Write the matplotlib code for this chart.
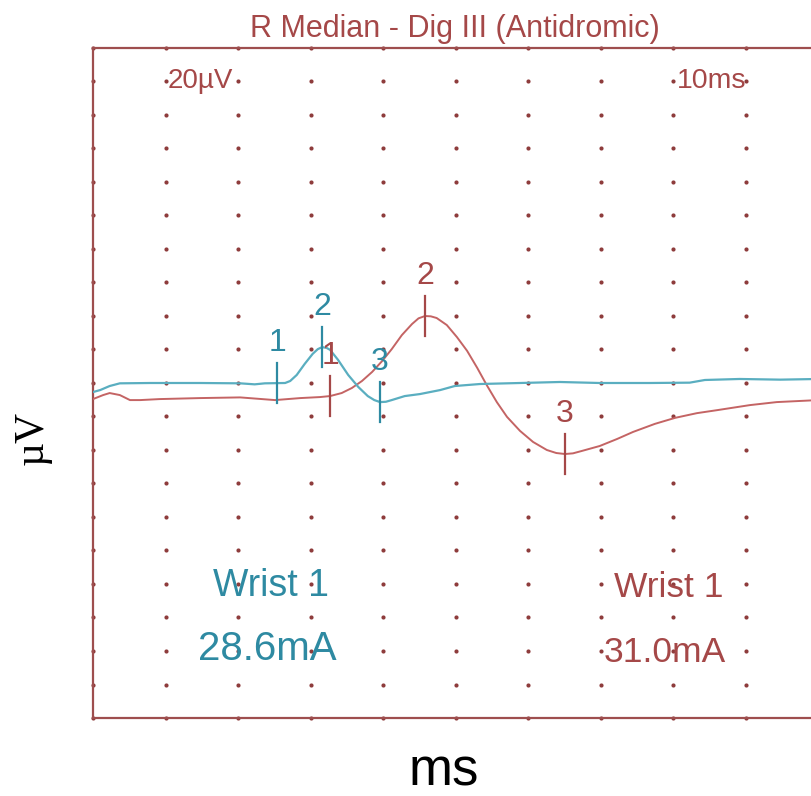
import matplotlib
matplotlib.use("Agg")
import matplotlib.pyplot as plt
import numpy as np

# Sweep: 10 ms across, 10 µV per dotted row
ms_range = (0, 10)
uv_range = (-100, 100)

# Wrist 1, 28.6 mA (teal trace)
teal_t = [0.00, 0.10, 0.23, 0.37, 0.79, 1.48, 2.03, 2.23, 2.37, 2.65, 2.72, 2.81,
          2.92, 3.03, 3.10, 3.16, 3.22, 3.27, 3.38, 3.52, 3.66, 3.79, 3.88, 3.96,
          4.04, 4.12, 4.30, 4.51, 4.79, 4.99, 5.34, 5.89, 6.44, 6.99, 7.68, 8.23,
          8.44, 8.92, 9.48, 10.0]
teal_v = [-2.7, -2.1, -0.9, -0.1, 0.0, 0.0, -0.1, -0.4, -0.1, 0.0, 0.6, 2.4,
          5.7, 8.7, 10.1, 10.7, 10.5, 9.9, 6.9, 2.4, -1.2, -3.9, -5.1, -5.7,
          -5.6, -5.1, -3.9, -3.3, -2.1, -0.9, -0.3, 0.0, 0.3, 0.0, 0.0, 0.1,
          0.9, 1.2, 1.0, 1.2]

# Wrist 1, 31.0 mA (red trace)
red_t = [0.00, 0.14, 0.23, 0.37, 0.51, 0.65, 0.92, 1.48, 2.03, 2.51, 2.86, 3.13,
         3.27, 3.43, 3.57, 3.71, 3.85, 3.99, 4.12, 4.26, 4.40, 4.49, 4.58, 4.66,
         4.74, 4.88, 5.02, 5.16, 5.30, 5.43, 5.57, 5.71, 5.89, 6.07, 6.26, 6.39,
         6.51, 6.62, 6.74, 6.99, 7.23, 7.45, 7.75, 8.03, 8.33, 8.61, 9.06, 9.43,
         10.0]
red_v = [-4.8, -3.6, -3.0, -3.6, -5.1, -5.1, -4.8, -4.5, -4.3, -5.1, -4.5, -4.2,
         -3.9, -3.0, -1.5, 0.6, 3.3, 6.6, 10.1, 14.3, 17.6, 19.3, 20.0, 19.9,
         19.4, 17.3, 13.7, 9.6, 4.5, -0.6, -5.7, -10.1, -14.3, -17.6, -20.0, -20.9,
         -21.2, -21.0, -20.3, -18.8, -16.7, -14.6, -12.2, -10.4, -9.0, -8.1, -6.6, -5.7,
         -5.1]

# Cursor markers (latency ms, amplitude µV)
marker_names = ["1", "2", "3"]
teal_mark_t = [2.54, 3.16, 3.96]
teal_mark_v = [0.0, 10.7, -5.7]
red_mark_t = [3.27, 4.58, 6.51]
red_mark_v = [-3.9, 20.0, -21.2]

title = "R Median - Dig III (Antidromic)"
teal_label = ["Wrist 1", "28.6mA"]
red_label = ["Wrist 1", "31.0mA"]

TEAL_LINE = "#5aaec0"
TEAL_TEXT = "#2e8aa2"
RED_LINE = "#c46464"
RED_TEXT = "#a54848"
FRAME = "#9e4e4e"
DOT = "#8e3c3c"

W, H = 812, 796
fig = plt.figure(figsize=(W / 100, H / 100), dpi=100)
ax = fig.add_axes([93 / W, 1 - 718 / H, 725 / W, 670 / H])
ax.set_xlim(*ms_range)
ax.set_ylim(*uv_range)

for side in ("left", "top", "bottom"):
    ax.spines[side].set_color(FRAME)
    ax.spines[side].set_linewidth(1.6)
ax.spines["right"].set_visible(False)
ax.set_xticks([])
ax.set_yticks([])

# dotted division grid
gx, gy = np.meshgrid(np.arange(0, 11, 1), np.arange(-100, 101, 10))
ax.scatter(gx.ravel(), gy.ravel(), s=9, color=DOT, linewidths=0, zorder=1, clip_on=False)

ax.plot(red_t, red_v, color=RED_LINE, lw=1.4, zorder=3, solid_joinstyle="round")
ax.plot(teal_t, teal_v, color=TEAL_LINE, lw=1.6, zorder=4, solid_joinstyle="round")

def draw_markers(ts, vs, line_col, text_col):
    for name, t, v in zip(marker_names, ts, vs):
        ax.plot([t, t], [v - 6, v + 6], color=line_col, lw=1.6, zorder=5)
        ax.annotate(name, (t, v), xytext=(0, 29), textcoords="offset points",
                    ha="center", va="center", fontsize=23, color=text_col,
                    family="Liberation Sans", zorder=6)

draw_markers(teal_mark_t, teal_mark_v, TEAL_TEXT, TEAL_TEXT)
draw_markers(red_mark_t, red_mark_v, RED_TEXT, RED_TEXT)

# scale readouts
ax.text(1.03, 90, "20µV", ha="left", va="center", fontsize=20,
        color=RED_TEXT, family="Liberation Sans")
ax.text(8.06, 90, "10ms", ha="left", va="center", fontsize=20.5,
        color=RED_TEXT, family="Liberation Sans")

# stimulus annotations
ax.text(2.46, -60.5, teal_label[0], ha="center", va="center", fontsize=27,
        color=TEAL_TEXT, family="Liberation Sans")
ax.text(2.40, -79.5, teal_label[1], ha="center", va="center", fontsize=29,
        color=TEAL_TEXT, family="Liberation Sans")
ax.text(7.94, -61, red_label[0], ha="center", va="center", fontsize=25.5,
        color=RED_TEXT, family="Liberation Sans")
ax.text(7.89, -80.5, red_label[1], ha="center", va="center", fontsize=25.5,
        color=RED_TEXT, family="Liberation Sans")

fig.text(455 / W, 1 - 29 / H, title, ha="center", va="center", fontsize=22,
         color=RED_TEXT, family="Liberation Sans")
fig.text(444 / W, 1 - 772 / H, "ms", ha="center", va="center", fontsize=38,
         color="black", family="Liberation Sans")
fig.text(32 / W, 1 - 438 / H, "µV", ha="center", va="center", fontsize=30,
         rotation=90, color="black", family="Liberation Serif")

fig.savefig("out.png", dpi=100)
